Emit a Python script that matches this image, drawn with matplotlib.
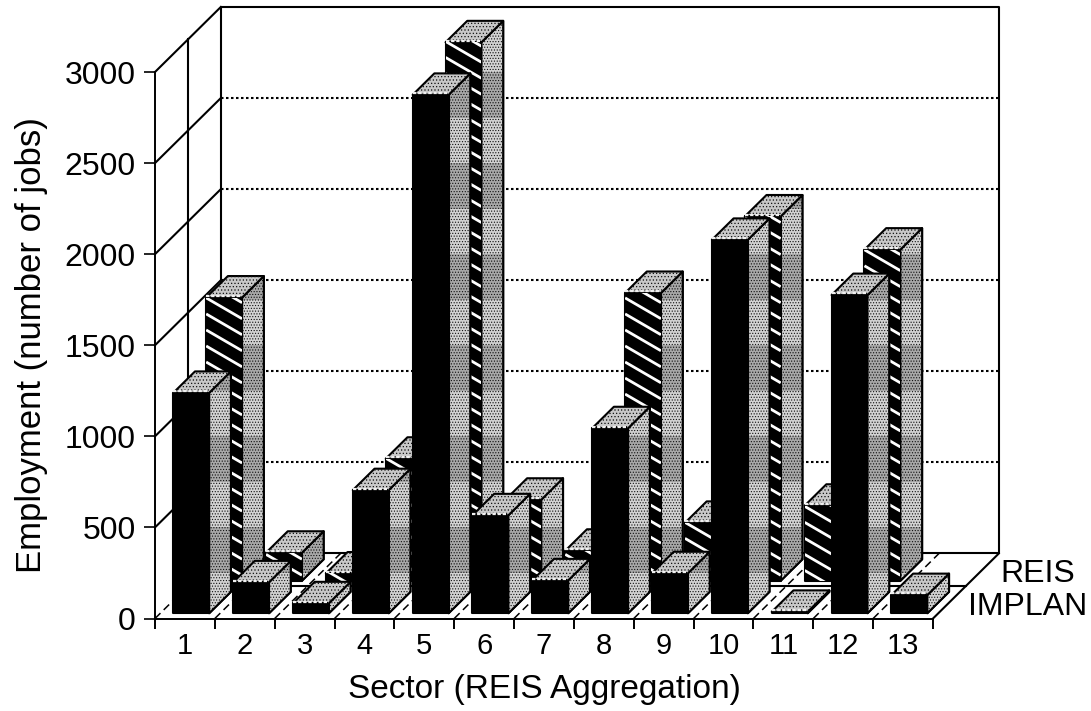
"""Employment by sector, REIS vs IMPLAN, drawn as an oblique pseudo-3D bar chart."""
import matplotlib
matplotlib.use("Agg")
import matplotlib.pyplot as plt
from matplotlib.patches import Polygon, Rectangle

sectors = ["1", "2", "3", "4", "5", "6", "7", "8", "9", "10", "11", "12", "13"]
implan = [1210, 170, 55, 676, 2846, 538, 181, 1016, 220, 2050, 8, 1747, 100]
reis = [1555, 154, 40, 670, 2956, 445, 165, 1580, 318, 2000, 412, 1818, 0]
yticks = [0, 500, 1000, 1500, 2000, 2500, 3000]
row_names = ["IMPLAN", "REIS"]

W, H = 1091, 711
DX, DY = 1.10, 357          # one full depth unit, in sectors / jobs
BAR_W, BAR_D, MARGIN = 0.60, 0.33, 0.217
ROW_START = [0.08, 0.58]

plt.rcParams.update({"font.family": ["Liberation Sans", "DejaVu Sans"], "hatch.linewidth": 0.5})


def proj(x, y, d):
    return x + d * DX, y + d * DY


def face(ax, pts, z, fc, hatch=None, lw=1.5):
    p = Polygon(pts, closed=True, fc=fc, ec="black", lw=lw, zorder=z, clip_on=False, joinstyle="round")
    ax.add_patch(p)
    if hatch:
        h = Polygon(pts, closed=True, fc="none", ec="#111111", lw=0, hatch=hatch, zorder=z + 0.01, clip_on=False)
        ax.add_patch(h)
    return p


def clipped(art, patch):
    art.set_clip_on(True)
    art.set_clip_path(patch)
    art.set_clip_box(None)


def side_face(ax, pts, z):
    p = face(ax, pts, z, "#c4c4c4")
    # moire blocks of the scanned halftone
    ys = [q[1] for q in pts]
    band = int(min(ys) // 250) - 1
    while band * 250 < max(ys):
        c = "#a8a8a8" if band % 2 else "#d2d2d2"
        r = Rectangle((0, band * 250), 16, 250, fc=c, ec="none", zorder=z + 0.01)
        ax.add_patch(r)
        clipped(r, p)
        band += 1
    h = Polygon(pts, closed=True, fc="none", ec="#111111", lw=0, hatch="......", zorder=z + 0.02, clip_on=False)
    ax.add_patch(h)
    o = Polygon(pts, closed=True, fc="none", ec="black", lw=1.5, zorder=z + 0.03, clip_on=False)
    ax.add_patch(o)


def stripes(ax, patch, x0, x1, top, z):
    # white diagonal stripes on the REIS front faces
    step = 88
    slope = 0.58 * 59.85 / 0.182     # jobs per sector
    y = 0
    while y < top + 400:
        ln, = ax.plot([x0, x1], [y, y - slope * (x1 - x0)], color="white", lw=2.0, zorder=z, solid_capstyle="butt")
        clipped(ln, patch)
        y += step


def bar(ax, i, val, row, z):
    x0 = i + MARGIN
    x1 = x0 + BAR_W
    d0 = ROW_START[row]
    d1 = d0 + BAR_D
    a = proj(x0, 0, d0)
    b = proj(x1, 0, d0)
    c = proj(x1, val, d0)
    e = proj(x0, val, d0)
    f = proj(x1, 0, d1)
    g = proj(x1, val, d1)
    k = proj(x0, val, d1)
    side_face(ax, [b, f, g, c], z)
    face(ax, [e, c, g, k], z + 0.1, "#c8c8c8", hatch=".....")
    p = face(ax, [a, b, c, e], z + 0.2, "black")
    if row == 1:
        stripes(ax, p, a[0], b[0], val, z + 0.25)
    # pale rim on the front of the top face
    ax.plot([e[0], c[0]], [e[1] + 9, c[1] + 9], color="#efefef", lw=1.6, zorder=z + 0.3, clip_on=False,
            ls=(0, (1.5, 0.8)))


fig = plt.figure(figsize=(W / 100, H / 100), dpi=100, facecolor="white")
ax = fig.add_axes([155 / W, 1 - 618.5 / H, (933 - 155) / W, (618.5 - 72) / H])
ax.set_xlim(0, 13)
ax.set_ylim(0, 3000)
ax.patch.set_visible(False)
ax.spines["top"].set_visible(False)
ax.spines["right"].set_visible(False)
ax.spines["left"].set_linewidth(1.4)
ax.spines["bottom"].set_linewidth(1.4)

ax.set_xticks(range(14))
ax.set_xticklabels([])
ax.set_xticks([i + 0.5 for i in range(13)], sectors, minor=True)
ax.tick_params(axis="x", which="major", length=7, width=1.4, direction="out")
ax.tick_params(axis="x", which="minor", length=0, pad=10, labelsize=21)
ax.set_yticks(yticks)
ax.tick_params(axis="y", length=8, width=1.2, pad=6, labelsize=23)
ax.set_xlabel("Sector (REIS Aggregation)", fontsize=24, labelpad=10)
ax.set_ylabel("Employment (number of jobs)", fontsize=25, labelpad=12)

# walls
wall = dict(color="black", lw=1.5, zorder=1, clip_on=False)
top = 3000
ax.plot(*zip(proj(0, 0, 1), proj(0, top, 1), proj(13, top, 1), proj(13, 0, 1), proj(0, 0, 1)), **wall)
ax.plot(*zip(proj(0, 0, 0.5), proj(0, top, 0.5)), **wall)
ax.plot(*zip(proj(0, top, 0), proj(0, top, 1)), **wall)
for v in yticks[1:-1]:
    ax.plot(*zip(proj(0, v, 0), proj(0, v, 1)), **wall)
    ax.plot(*zip(proj(0, v, 1), proj(13, v, 1)), color="black", lw=1.5, ls=(0, (1.2, 1.2)), zorder=1, clip_on=False)

# floor
ax.plot(*zip(proj(0, 0, 0.5), proj(13, 0, 0.5)), **wall)
ax.plot(*zip(proj(13, 0, 0), proj(13, 0, 1)), **wall)
for i in range(13):
    ax.plot(*zip(proj(i, 0, 0), proj(i, 0, 1)), color="black", lw=1.1, ls=(0, (5, 3)), zorder=1, clip_on=False)

z = 3
for row, vals in [(1, reis), (0, implan)]:
    for i, v in enumerate(vals):
        if v > 0:
            bar(ax, i, v, row, z)
            z += 1

# row labels sit just past the right floor edge
for row, name in enumerate(row_names):
    x, y = proj(13.38, 0, ROW_START[row] + 0.1)
    ax.text(x, y, name, fontsize=23, ha="left", va="center", clip_on=False)

fig.savefig("out.png", dpi=100)
